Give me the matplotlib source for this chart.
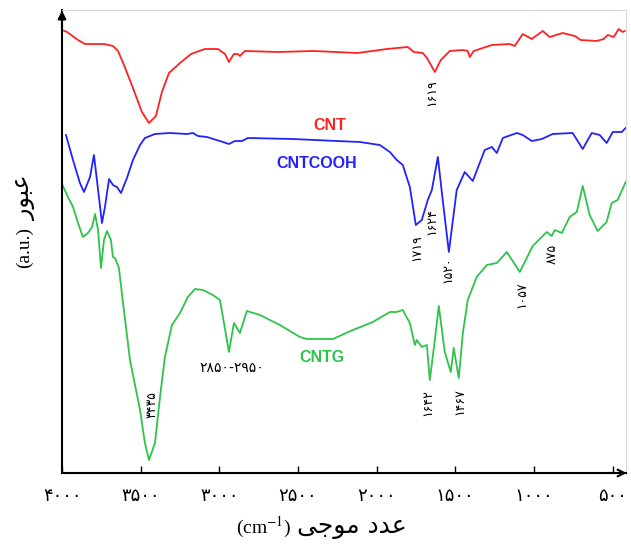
import matplotlib.pyplot as plt

plt.rcParams['font.family'] = ['DejaVu Sans']
plt.rcParams['mathtext.fontset'] = 'stix'

# طیف CNT
cnt_wn = [4000, 3968, 3898, 3854, 3784, 3733, 3676, 3644, 3606, 3549, 3492, 3447,
          3403, 3365, 3320, 3250, 3180, 3092, 3009, 2964, 2939, 2907, 2882, 2869,
          2837, 2628, 2399, 2120, 1935, 1802, 1764, 1707, 1680, 1630, 1592, 1535,
          1452, 1421, 1408, 1383, 1268, 1154, 1122, 1071, 1014, 944, 900, 817,
          741, 703, 601, 557, 531, 493, 461, 436, 423]
cnt_t = [443, 441, 433, 429, 429, 429, 427, 422, 408, 385, 361, 350,
         357, 381, 400, 410, 419, 424, 424, 419, 411, 419, 419, 417,
         422, 421, 422, 420, 424, 426, 421, 420, 415, 401, 413, 422,
         423, 422, 416, 422, 428, 429, 427, 439, 434, 442, 436, 440,
         437, 433, 432, 434, 438, 436, 444, 441, 442]

# طیف CNTCOOH
cooh_wn = [3975, 3930, 3886, 3860, 3822, 3797, 3778, 3746, 3727, 3701, 3676, 3651,
           3625, 3587, 3549, 3504, 3473, 3409, 3314, 3206, 3168, 3136, 3079, 2977,
           2939, 2901, 2856, 2818, 2532, 2253, 2107, 1980, 1916, 1872, 1834, 1789,
           1751, 1713, 1675, 1649, 1611, 1580, 1541, 1491, 1440, 1389, 1313, 1268,
           1236, 1198, 1109, 1071, 1014, 950, 881, 754, 690, 633, 582, 538, 499,
           442, 417]
cooh_t = [338, 313, 290, 281, 296, 318, 293, 250, 266, 294, 288, 286,
          280, 295, 313, 328, 335, 339, 340, 339, 340, 337, 336, 331,
          329, 332, 332, 335, 334, 332, 331, 328, 321, 313, 308, 286,
          248, 253, 273, 283, 316, 273, 221, 283, 301, 292, 323, 326,
          320, 335, 340, 338, 332, 334, 339, 340, 324, 340, 338, 330, 341,
          341, 345]

# طیف CNTG
cntg_wn = [4000, 3962, 3930, 3898, 3867, 3835, 3809, 3790, 3771, 3752, 3733, 3714,
           3689, 3676, 3663, 3638, 3612, 3568, 3504, 3473, 3447, 3409, 3377, 3346,
           3301, 3250, 3200, 3155, 3104, 3041, 2996, 2977, 2939, 2907, 2869, 2825,
           2742, 2615, 2488, 2443, 2278, 2151, 2024, 1916, 1872, 1834, 1789, 1757,
           1745, 1713, 1681, 1662, 1630, 1605, 1567, 1529, 1510, 1478, 1452, 1421,
           1364, 1300, 1236, 1173, 1090, 1008, 919, 887, 868, 823, 773, 728, 690,
           646, 595, 538, 506, 468, 417]
cntg_t = [289, 276, 266, 250, 236, 240, 246, 259, 243, 205, 233, 242,
          233, 216, 215, 205, 170, 113, 63, 30, 13, 30, 76, 116,
          148, 160, 176, 184, 183, 178, 173, 156, 121, 150, 140, 162,
          158, 148, 136, 134, 134, 143, 151, 161, 161, 163, 150, 128,
          133, 126, 128, 93, 133, 167, 121, 101, 125, 95, 140, 173,
          196, 208, 210, 221, 201, 227, 241, 237, 243, 240, 256, 261, 287,
          258, 242, 251, 270, 273, 291]

# برچسب پیک‌ها (عمودی)
peak_txt = ['۱۶۱۹', '۱۷۱۹', '۱۶۲۴', '۱۵۲۰', '۱۰۵۷', '۸۷۵', '۳۴۳۵', '۱۶۴۲', '۱۴۶۷']
peak_wn = [1650, 1745, 1650, 1548, 1078, 887, 3428, 1675, 1472]
peak_t = [380, 225, 251, 203, 178, 219, 68, 70, 71]

# نام نمونه‌ها
names = ['CNT', 'CNTCOOH', 'CNTG']
name_wn = [2300, 2380, 2348]
name_t = [348, 310, 116]
colors = ['#ff2222', '#2222ff', '#2ec44a']

xticks = [4000, 3500, 3000, 2500, 2000, 1500, 1000, 500]
xtick_lbl = ['۴۰۰۰', '۳۵۰۰', '۳۰۰۰', '۲۵۰۰', '۲۰۰۰', '۱۵۰۰', '۱۰۰۰', '۵۰۰']

fig = plt.figure(figsize=(6.31, 5.48), dpi=100)
ax = fig.add_axes([62/631, 1-473/548, 564/631, 463/548])

ax.plot(cnt_wn, cnt_t, color=colors[0], lw=1.3)
ax.plot(cooh_wn, cooh_t, color=colors[1], lw=1.3)
ax.plot(cntg_wn, cntg_t, color=colors[2], lw=1.3)

ax.set_xlim(4000, 415)
ax.set_ylim(0, 463)

ax.set_xticks(xticks)
ax.set_xticklabels(xtick_lbl, fontsize=13)
ax.set_yticks([])
ax.tick_params(axis='x', direction='in', length=5, width=1, pad=10)

for s in ['top', 'right']:
    ax.spines[s].set_color('#d8d8d8')
    ax.spines[s].set_linewidth(0.8)
for s in ['left', 'bottom']:
    ax.spines[s].set_linewidth(1.5)

# فلش انتهای محورها
ax.annotate('', xy=(0, 1.005), xytext=(0, 0.95), xycoords='axes fraction',
            arrowprops=dict(arrowstyle='-|>', color='black', lw=1.5, mutation_scale=12))
ax.annotate('', xy=(1.006, 0), xytext=(0.96, 0), xycoords='axes fraction',
            arrowprops=dict(arrowstyle='->', color='black', lw=1.5, mutation_scale=12))

for t, w, y in zip(peak_txt, peak_wn, peak_t):
    ax.text(w, y, t, rotation=90, fontsize=9, ha='center', va='center')
ax.text(2920, 105, '۲۸۵۰-۲۹۵۰', fontsize=10, ha='center', va='center')

for n, w, y, c in zip(names, name_wn, name_t, colors):
    ax.text(w, y, n, color=c, fontsize=11.5, fontweight='bold',
            family='Liberation Sans', ha='center', va='center')

# عنوان محورها (حروف به شکل نمایشی)
fig.text(24/631, 1-248/548, '(a.u.)', rotation=90, fontsize=14, ha='center',
         va='center', family='Liberation Serif')
fig.text(24/631, 1-198/548, '\uFEAD\uFEEE\uFE92\uFECB', rotation=90, fontsize=17,
         ha='center', va='center')
xlab_fa = '\uFEF0\uFE9F\uFEEE\uFEE3' + ' ' + '\uFEA9\uFEAA\uFECB'
fig.text(297/631, 1-527/548, xlab_fa, fontsize=18, ha='left', va='center')
fig.text(291/631, 1-527/548, '(cm$^{-1}$)', fontsize=14, ha='right', va='center',
         family='Liberation Serif')

plt.savefig('out.png', dpi=100)
